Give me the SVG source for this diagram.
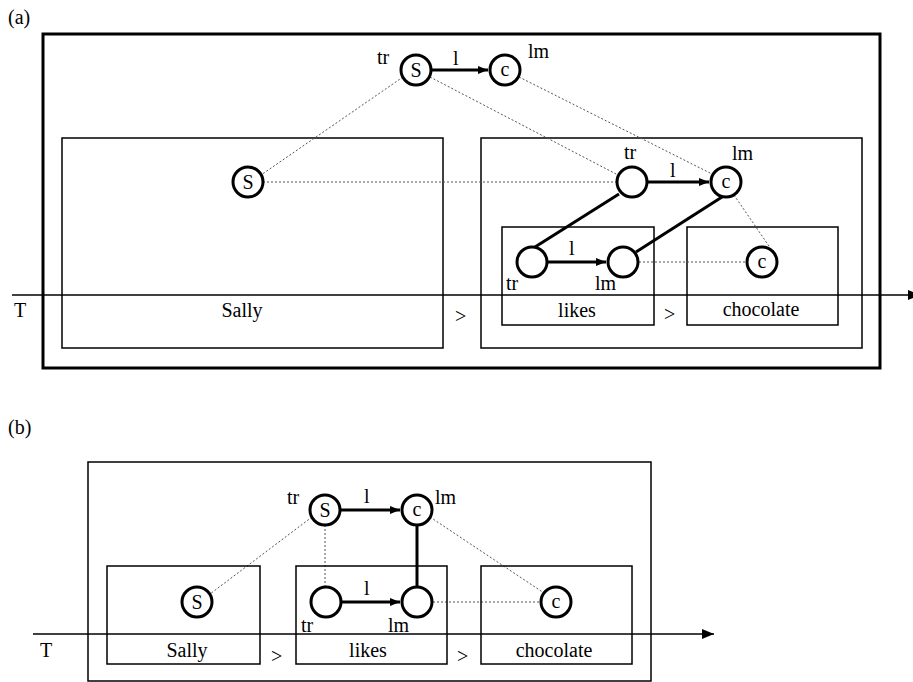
<svg xmlns="http://www.w3.org/2000/svg" width="913" height="682" viewBox="0 0 913 682" font-family="'Liberation Serif','Times New Roman',serif">
<style>
text{font-family:"Liberation Serif","Times New Roman",serif;font-size:20px;fill:#000}
.lab{text-anchor:middle}
.box{fill:none;stroke:#000;stroke-width:1.5}
.outer{fill:none;stroke:#000;stroke-width:3}
.node{fill:#fff;stroke:#000;stroke-width:3}
.dot{stroke:#555;stroke-width:1;stroke-dasharray:2,2;fill:none}
.thick{stroke:#000;stroke-width:3;fill:none}
.axis{stroke:#000;stroke-width:1.5;fill:none}
</style>
<defs>
<marker id="ah" markerWidth="10" markerHeight="8" refX="10" refY="4" orient="auto" markerUnits="userSpaceOnUse">
<path d="M0,0 L10,4 L0,8 Z" fill="#000"/>
</marker>
<marker id="ax" markerWidth="12" markerHeight="10" refX="12" refY="5" orient="auto" markerUnits="userSpaceOnUse">
<path d="M0,0 L12,5 L0,10 Z" fill="#000"/>
</marker>
</defs>
<text x="8" y="24">(a)</text>
<text x="8" y="434">(b)</text>
<g id="a-outer"><rect class="outer" x="43" y="34" width="837" height="334"/></g>
<g id="a-sally-box"><rect class="box" x="62" y="138" width="381" height="210"/><text class="lab" x="242" y="317">Sally</text></g>
<g id="a-right-box"><rect class="box" x="481" y="138" width="381" height="210"/></g>
<g id="a-likes-box"><rect class="box" x="502" y="227" width="152" height="98"/><text class="lab" x="577" y="317">likes</text></g>
<g id="a-choc-box"><rect class="box" x="687" y="227" width="151" height="98"/><text class="lab" x="761" y="316">chocolate</text></g>
<g id="a-axis"><line class="axis" x1="12" y1="295" x2="920" y2="295" marker-end="url(#ax)"/><text x="14" y="317">T</text><text x="455" y="323">&gt;</text><text x="664" y="321">&gt;</text></g>
<g id="connectors">
<line class="dot" x1="403" y1="77" x2="261" y2="175"/>
<line class="dot" x1="430" y1="77" x2="618" y2="175"/>
<line class="dot" x1="519" y1="77" x2="712" y2="174"/>
<line class="dot" x1="263" y1="182" x2="616" y2="182"/>
<line class="dot" x1="734" y1="195" x2="771" y2="249"/>
<line class="dot" x1="639" y1="262" x2="747" y2="262"/>
<line class="thick" x1="432" y1="70" x2="488" y2="70" marker-end="url(#ah)"/>
<line class="thick" x1="648" y1="182" x2="709" y2="182" marker-end="url(#ah)"/>
<line class="thick" x1="548" y1="262" x2="606" y2="262" marker-end="url(#ah)"/>
<line class="thick" x1="619" y1="194" x2="535" y2="247"/>
<line class="thick" x1="722" y1="197" x2="636" y2="252"/>
<line class="dot" x1="312" y1="517" x2="210" y2="594"/>
<line class="dot" x1="325" y1="525" x2="325" y2="587"/>
<line class="dot" x1="430" y1="517" x2="544" y2="593"/>
<line class="dot" x1="433" y1="602" x2="541" y2="602"/>
<line class="thick" x1="341" y1="510" x2="400" y2="510" marker-end="url(#ah)"/>
<line class="thick" x1="342" y1="602" x2="400" y2="602" marker-end="url(#ah)"/>
<line class="thick" x1="417" y1="526" x2="417" y2="586"/>
</g>
<g id="a-topS"><circle class="node" cx="416" cy="70" r="15"/><text class="lab" x="416" y="77">S</text><text x="377" y="64">tr</text></g>
<g id="a-topC"><circle class="node" cx="505" cy="70" r="15"/><text class="lab" x="505" y="76">c</text><text x="528" y="58">lm</text><text x="453" y="65">l</text></g>
<g id="a-sallyS"><circle class="node" cx="248" cy="182" r="15"/><text class="lab" x="248" y="189">S</text></g>
<g id="a-tr"><circle class="node" cx="632" cy="182" r="15"/><text class="lab" x="630" y="159">tr</text><text x="670" y="177">l</text></g>
<g id="a-c"><circle class="node" cx="726" cy="182" r="15"/><text class="lab" x="726" y="188">c</text><text x="732" y="160">lm</text></g>
<g id="a-likes-tr"><circle class="node" cx="532" cy="262" r="15"/><text x="506" y="290">tr</text><text x="569" y="255">l</text></g>
<g id="a-likes-lm"><circle class="node" cx="623" cy="262" r="15"/><text x="595" y="290">lm</text></g>
<g id="a-choc-c"><circle class="node" cx="762" cy="262" r="15"/><text class="lab" x="762" y="268">c</text></g>
<g id="b-outer"><rect class="box" x="88" y="462" width="563" height="219"/></g>
<g id="b-sally-box"><rect class="box" x="107" y="566" width="153" height="98"/><text class="lab" x="187" y="657">Sally</text></g>
<g id="b-likes-box"><rect class="box" x="296" y="566" width="151" height="98"/><text class="lab" x="368" y="657">likes</text></g>
<g id="b-choc-box"><rect class="box" x="481" y="566" width="151" height="98"/><text class="lab" x="554" y="657">chocolate</text></g>
<g id="b-axis"><line class="axis" x1="33" y1="634" x2="714" y2="634" marker-end="url(#ax)"/><text x="40" y="657">T</text><text x="271" y="663">&gt;</text><text x="457" y="663">&gt;</text></g>
<g id="b-topS"><circle class="node" cx="325" cy="510" r="15"/><text class="lab" x="325" y="517">S</text><text x="287" y="504">tr</text><text x="364" y="503">l</text></g>
<g id="b-topC"><circle class="node" cx="417" cy="510" r="15"/><text class="lab" x="417" y="516">c</text><text x="435" y="504">lm</text></g>
<g id="b-sallyS"><circle class="node" cx="197" cy="602" r="15"/><text class="lab" x="197" y="609">S</text></g>
<g id="b-likes-tr"><circle class="node" cx="326" cy="602" r="15"/><text x="301" y="632">tr</text><text x="364" y="595">l</text></g>
<g id="b-likes-lm"><circle class="node" cx="417" cy="602" r="15"/><text x="388" y="632">lm</text></g>
<g id="b-choc-c"><circle class="node" cx="556" cy="602" r="15"/><text class="lab" x="556" y="608">c</text></g>
</svg>
